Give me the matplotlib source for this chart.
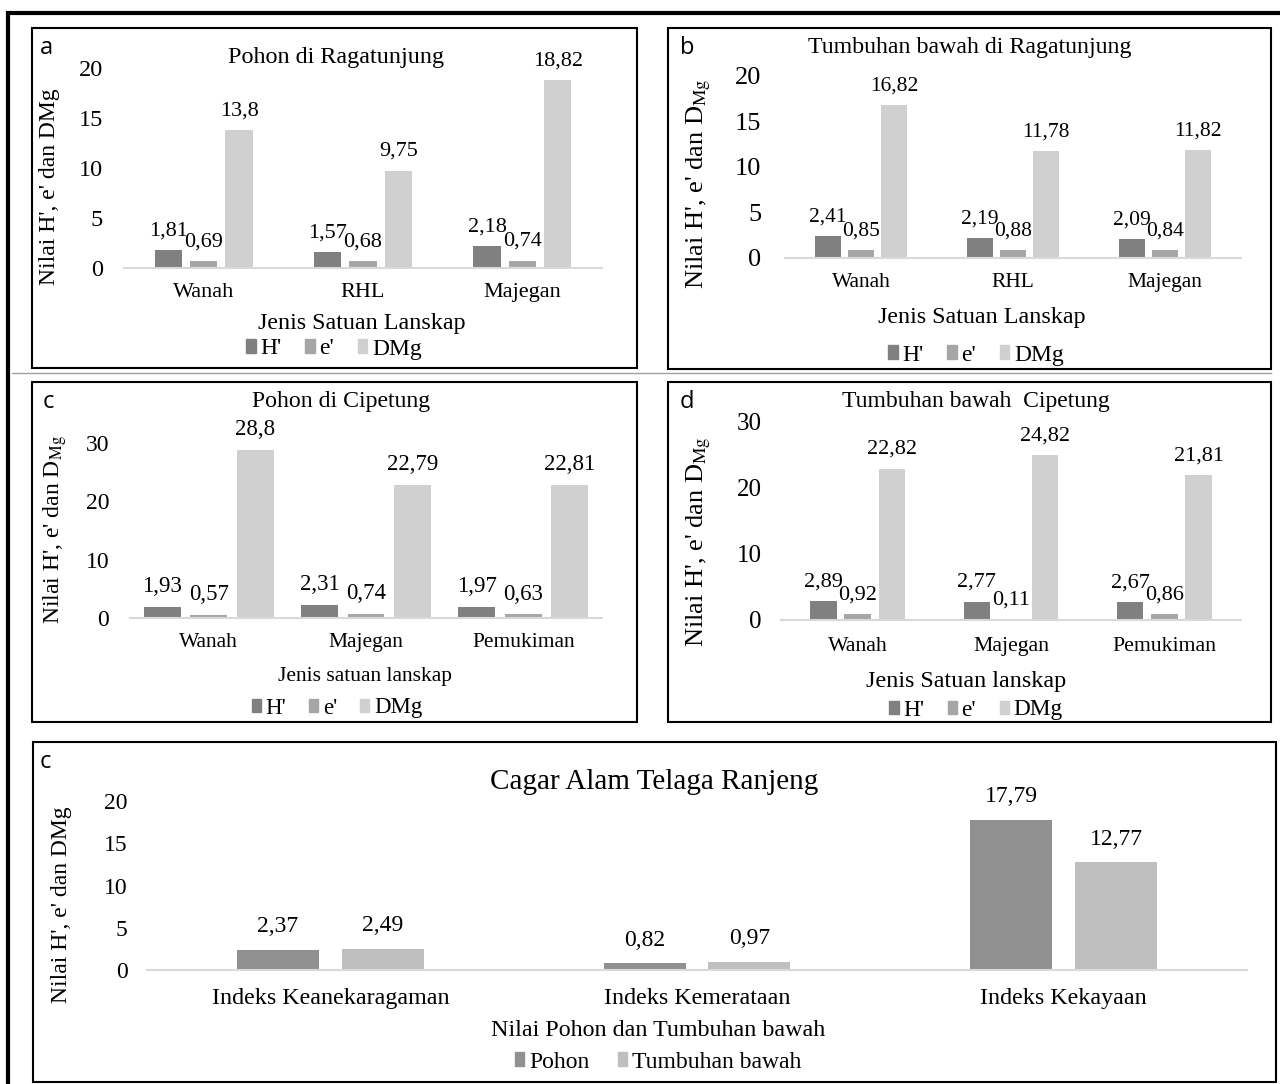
import matplotlib
matplotlib.use("Agg")
import matplotlib.pyplot as plt
from matplotlib.patches import Rectangle, Patch
from matplotlib.lines import Line2D

plt.rcParams['font.family'] = ['Liberation Serif', 'DejaVu Serif']
plt.rcParams['mathtext.fontset'] = 'stix'

# data
cats_rt = ["Wanah", "RHL", "Majegan"]
cats_cp = ["Wanah", "Majegan", "Pemukiman"]
series = ["H'", "e'", "DMg"]

a_H = [1.81, 1.57, 2.18]
a_e = [0.69, 0.68, 0.74]
a_D = [13.8, 9.75, 18.82]

b_H = [2.41, 2.19, 2.09]
b_e = [0.85, 0.88, 0.84]
b_D = [16.82, 11.78, 11.82]

c_H = [1.93, 2.31, 1.97]
c_e = [0.57, 0.74, 0.63]
c_D = [28.8, 22.79, 22.81]

d_H = [2.89, 2.77, 2.67]
d_e = [0.92, 0.11, 0.86]
d_D = [22.82, 24.82, 21.81]

cats_e = ["Indeks Keanekaragaman", "Indeks Kemerataan", "Indeks Kekayaan"]
e_series = ["Pohon", "Tumbuhan bawah"]
e_pohon = [2.37, 0.82, 17.79]
e_tb = [2.49, 0.97, 12.77]

cols3 = ["#808080", "#a6a6a6", "#d0d0d0"]
cols2 = ["#909090", "#bfbfbf"]

W, H = 1280, 1084
fig = plt.figure(figsize=(12.8, 10.84), dpi=100)


def fx(x):
    return x / W


def fy(y):
    return 1 - y / H


def rect(x0, y0, x1, y1, lw=1.5, color="black"):
    fig.add_artist(Rectangle((fx(x0), fy(y1)), fx(x1) - fx(x0), fy(y0) - fy(y1),
                             transform=fig.transFigure, fill=False, lw=lw, ec=color))


def fmt(v):
    return f"{v:g}".replace(".", ",")


def panel(pos, cats, vals, names, colors, offs, width, ylim, yticks, ypad, xpad, lblpad,
          tick_fs=17, lbl_fs=16, cat_fs=16):
    x0, y0, x1, y1 = pos
    ax = fig.add_axes([fx(x0), fy(y1), fx(x1) - fx(x0), fy(y0) - fy(y1)])
    idx = range(len(cats))
    for k, v in enumerate(vals):
        bars = ax.bar([i + offs[k] for i in idx], v, width, color=colors[k], label=names[k])
        ax.bar_label(bars, labels=[fmt(x) for x in v], padding=lblpad, fontsize=lbl_fs)
    ax.set_xlim(-0.5, len(cats) - 0.5)
    ax.set_ylim(*ylim)
    ax.set_yticks(yticks)
    ax.set_xticks(list(idx))
    ax.set_xticklabels(cats, fontsize=cat_fs)
    ax.tick_params(axis="y", length=0, pad=ypad, labelsize=tick_fs)
    ax.tick_params(axis="x", length=0, pad=xpad)
    for s in ["top", "right", "left"]:
        ax.spines[s].set_visible(False)
    ax.spines["bottom"].set_color("#d9d9d9")
    ax.spines["bottom"].set_linewidth(1.5)
    ax.patch.set_alpha(0)
    return ax


def legend(ax, names, colors, x, y, fs=17, spacing=1.0):
    handles = [Patch(color=c) for c in colors]
    ax.legend(handles, names, loc="center", bbox_to_anchor=(fx(x), fy(y)),
              bbox_transform=fig.transFigure, ncol=len(names), frameon=False,
              fontsize=fs, handlelength=0.4, handleheight=0.5, handletextpad=0.2,
              columnspacing=spacing, borderpad=0)


ylab_sub = "Nilai H', e' dan D$_{\\mathrm{Mg}}$"
ylab = "Nilai H', e' dan DMg"

# outer border and boxes
rect(8, 13, 1300, 1110, lw=3)
rect(32, 28, 637, 368)
rect(668, 28, 1271, 369)
rect(32, 382, 637, 722)
rect(668, 382, 1271, 722)
rect(33, 742, 1276, 1082)
fig.add_artist(Line2D([fx(12), fx(1271)], [fy(373), fy(373)], transform=fig.transFigure,
                      color="#a0a0a0", lw=1))

# a
ax = panel((124, 68, 602, 268), cats_rt, [a_H, a_e, a_D], series, cols3,
           [-0.222, 0, 0.222], 0.173, (0, 20), [0, 5, 10, 15, 20], 15, 11, 7,
           tick_fs=17.5, lbl_fs=16, cat_fs=16)
fig.text(fx(336), fy(57), "Pohon di Ragatunjung", ha="center", va="center", fontsize=17.4)
fig.text(fx(40), fy(48), "a", ha="left", va="center", fontsize=17, family="Open Sans")
fig.text(fx(50), fy(187), ylab, rotation=90, ha="center", va="center", fontsize=17)
fig.text(fx(362), fy(323), "Jenis Satuan Lanskap", ha="center", va="center", fontsize=17.3)
legend(ax, series, cols3, 334, 349)

# b
ax = panel((785, 76, 1241, 258), cats_rt, [b_H, b_e, b_D], series, cols3,
           [-0.217, 0, 0.217], 0.177, (0, 20), [0, 5, 10, 15, 20], 17, 11, 7,
           tick_fs=19, lbl_fs=15.5, cat_fs=15.5)
fig.text(fx(970), fy(48), "Tumbuhan bawah di Ragatunjung", ha="center", va="center", fontsize=17.2)
fig.text(fx(680), fy(48), "b", ha="left", va="center", fontsize=17, family="Open Sans")
fig.text(fx(699), fy(184), ylab_sub, rotation=90, ha="center", va="center", fontsize=19)
fig.text(fx(982), fy(318), "Jenis Satuan Lanskap", ha="center", va="center", fontsize=17.3)
legend(ax, series, cols3, 976, 355)

# c
ax = panel((130, 443, 602, 618), cats_cp, [c_H, c_e, c_D], series, cols3,
           [-0.295, 0, 0.295], 0.235, (0, 30), [0, 10, 20, 30], 15, 11, 7,
           tick_fs=17, lbl_fs=16.5, cat_fs=15.5)
fig.text(fx(341), fy(402), "Pohon di Cipetung", ha="center", va="center", fontsize=17.1)
fig.text(fx(43), fy(402), "c", ha="left", va="center", fontsize=17, family="Open Sans")
fig.text(fx(55), fy(530), ylab_sub, rotation=90, ha="center", va="center", fontsize=17)
fig.text(fx(365), fy(677), "Jenis satuan lanskap", ha="center", va="center", fontsize=15.5)
legend(ax, series, cols3, 337, 708, fs=16.5)

# d
ax = panel((781, 421, 1241, 620), cats_cp, [d_H, d_e, d_D], series, cols3,
           [-0.223, 0, 0.223], 0.173, (0, 30), [0, 10, 20, 30], 14, 12, 7,
           tick_fs=18, lbl_fs=16, cat_fs=15.7)
fig.text(fx(976), fy(402), "Tumbuhan bawah  Cipetung", ha="center", va="center", fontsize=17)
fig.text(fx(680), fy(402), "d", ha="left", va="center", fontsize=17, family="Open Sans")
fig.text(fx(699), fy(542), ylab_sub, rotation=90, ha="center", va="center", fontsize=19)
fig.text(fx(966), fy(682), "Jenis Satuan lanskap", ha="center", va="center", fontsize=17.4)
legend(ax, series, cols3, 976, 710, fs=16.8)

# e
ax = panel((147, 801, 1247, 970), cats_e, [e_pohon, e_tb], e_series, cols2,
           [-0.143, 0.143], 0.224, (0, 20), [0, 5, 10, 15, 20], 14, 13, 9,
           tick_fs=17, lbl_fs=17, cat_fs=17.3)
fig.text(fx(654), fy(782), "Cagar Alam Telaga Ranjeng", ha="center", va="center", fontsize=21)
fig.text(fx(40), fy(762), "c", ha="left", va="center", fontsize=17, family="Open Sans")
fig.text(fx(62), fy(905), ylab, rotation=90, ha="center", va="center", fontsize=17)
fig.text(fx(658), fy(1030), "Nilai Pohon dan Tumbuhan bawah", ha="center", va="center", fontsize=17.3)
legend(ax, e_series, cols2, 658, 1062, spacing=1.2)

fig.savefig("out.png", dpi=100, facecolor="white")
